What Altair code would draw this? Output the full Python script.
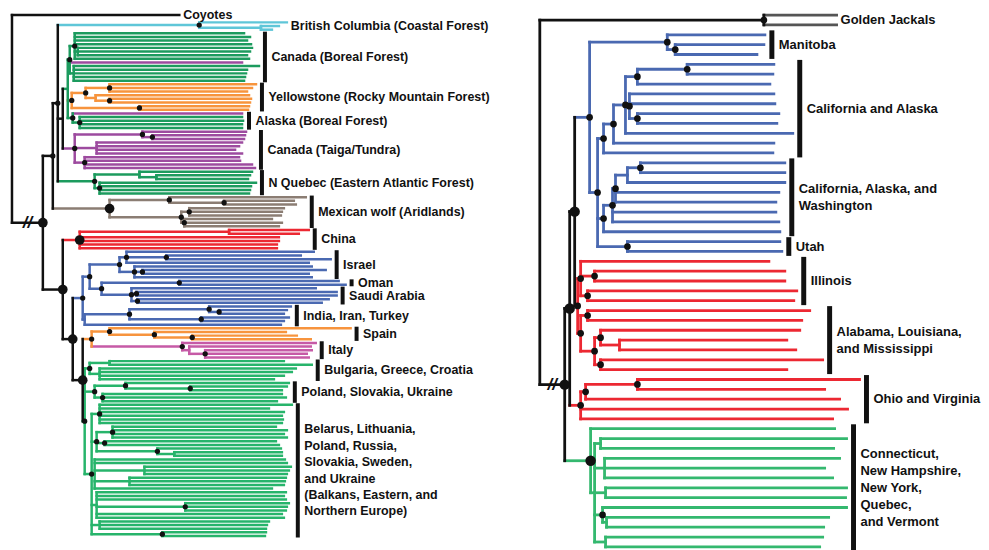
import altair as alt
import pandas as pd

# ---------------- colours ----------------
BLACK = "#111111"
LBLUE = "#5fc6d8"
NAGREEN = "#1c9b5e"
ORANGE = "#f7943d"
PURPLE = "#9d4b9f"
PINK = "#c65aa6"
BROWN = "#8b7d73"
RED = "#ec2832"
BLUE = "#4a69b1"
EUGREEN = "#27b46b"
RGREEN = "#34b86f"
GRAY = "#555555"

# node = (depth, children, support_dot[, colour]); leaf = tip depth or [tip depth, colour]
# ---------------- left tree ----------------
COYOTES = (12, [180], 0)
BC = (200, [288, (262, [280, 273], 0)], 1, LBLUE)
CB = (70, [(75, [245, 251, 248, 252, (78, [253, 251, 248], 0), 250], 1), [243, PURPLE],
           (74, [260, 248, 247, 246, 245], 0)], 1, NAGREEN)
YS = (72, [(86, [(110, [257, 253, 248], 1), (96, [250, (110, [252, 251], 1)], 0)], 1),
           (140, [250, 249], 1)], 1, ORANGE)
AK = (73, [[243, PURPLE], (80, [243, 244, 243, 243], 1)], 1, NAGREEN)
TT = (75, [(143, [247, (153, [246, 245], 1)], 1), (97, [243, 240, 236, 243], 0),
           (85, [240, 241, 253, 256], 1)], 1, PURPLE)
NQ = (95, [(140, [253, (157, [251, 249], 0)], 0), (100, [257, 252, 251, 250], 1)], 1, NAGREEN)
MEX = (110, [(170, [307, (225, [295, 297], 1)], 1),
             (182, [(190, [285, 283, 282], 1), (185, [273, 283, 280], 1)], 1)], 2, BROWN)
CHINA = (80, [(230, [310, 300], 0), 280, 280, 278, 278], 2, RED)
ISRAEL = (120, [(127, [315, (167, [302, 332], 1), 310], 1), (135, [313, (143, [327, 310], 1), 313], 1)], 1)
OMAN = (180, [340, 347], 1)
SAUDI = (132, [317, (137, [338, 338], 1), (138, [330, 323], 1)], 1)
INDIA = (85, [(130, [(210, [292, (220, [288, 285], 1)], 1), (202, [290, 285], 1)], 1), 282], 0)
ASIA = (83, [(90, [ISRAEL, (102, [OMAN, SAUDI], 1)], 1), INDIA], 1, BLUE)
SPAIN = (110, [352, (155, [287, (193, [298, 312], 1)], 1)], 1)
ITALY = (183, [317, (190, [312, (206, [313, 308, 310], 1)], 0)], 1, PINK)
SPIT = (92, [SPAIN, ITALY], 1, ORANGE)
BULG = (90, [(110, [285, 313], 0), (100, [297, 293, 285, 275], 0)], 1)
POL = (95, [(126, [290, (191, [288, 283], 1)], 1), (103, [283, 287, 278], 1)], 1)
BEL = (92, [(100, [293, 270, 285, 283, 284, 283], 1),
            (97, [(113, [277, 288, 285, 288], 1), (105, [277, 280], 1), (158, [282, (175, [283, 283], 0)], 1)], 1),
            (95, [286, 288, (145, [292, 290, 288], 0), (130, [287, 286, 285], 0), 273], 0),
            (97, [287, 285, 287, (186, [290, 288, 287], 1), 283, 285], 0),
            (100, [270, 268, 267], 0),
            (163, [267, 266], 1)], 1)
EUROPE = (85, [BULG, POL, BEL], 1, EUGREEN)
NAW = (58, [BC, (63, [(68, [CB, YS, AK], 0, NAGREEN), TT], 0), NQ], 1)
NA = (53, [NAW, MEX], 1)
OW2 = (83, [SPIT, EUROPE], 2)
OW1 = (73, [ASIA, OW2], 2)
OW = (63, [CHINA, OW1], 2)
INGROUP_L = (43, [NA, OW], 2)
ROOT_L = (12, [COYOTES, None, INGROUP_L], 0)

LABELS_L = [
    ("Coyotes", COYOTES, False),
    ("British Columbia (Coastal Forest)", BC, False),
    ("Canada (Boreal Forest)", CB, True),
    ("Yellowstone (Rocky Mountain Forest)", YS, True),
    ("Alaska (Boreal Forest)", AK, True),
    ("Canada (Taiga/Tundra)", TT, True),
    ("N Quebec (Eastern Atlantic Forest)", NQ, True),
    ("Mexican wolf (Aridlands)", MEX, True),
    ("China", CHINA, True),
    ("Israel", ISRAEL, True),
    ("Oman", OMAN, True),
    ("Saudi Arabia", SAUDI, True),
    ("India, Iran, Turkey", INDIA, True),
    ("Spain", SPAIN, True),
    ("Italy", ITALY, True),
    ("Bulgaria, Greece, Croatia", BULG, True),
    ("Poland, Slovakia, Ukraine", POL, True),
    ("Belarus, Lithuania,\nPoland, Russia,\nSlovakia, Sweden,\nand Ukraine\n(Balkans, Eastern, and\nNorthern Europe)", BEL, True),
]

# ---------------- right tree ----------------
GJ = (767, [[840, GRAY], [840, GRAY]], 1)
MANITOBA = (670, [768, (678, [767, 760], 1)], 1)
CAAK = (606, [(616, [(628, [(640, [(690, [777, 776], 1), 773], 1),
                            (632, [777, 778, (640, [782, 780], 1)], 1), 796], 1), 777], 1), 776], 1)
CAAKWA = (606, [(615, [(618, [(630, [(643, [788, 788], 1), 788], 0), 782, 779], 1), 779, 782], 1), 783], 1)
UTAH = (630, [783, 785], 1)
NABLUE = (592, [MANITOBA, (600, [CAAK, CAAKWA, UTAH], 1)], 1, BLUE)
ILLINOIS = (583, [772, (597, [788, 788], 1), (590, [800, 797], 1)], 1, RED)
ALABAMA = (583, [(590, [813, 805], 1), (597, [(603, [803, (622, [790, 799], 0)], 1),
                                            (603, [826, 790], 1)], 1)], 1, RED)
OHIO = (583, [(588, [(640, [863, 828], 1), 843], 1), 851, 836], 1, RED)
NEAST = (593, [838, (597, [(603, [850, 837], 0), (607, [843, 828, 836], 0), (608, [850, 849], 0),
                           (605, [850, (609, [832, 827], 0)], 1), (608, [826, 823], 0)], 0)], 2, RGREEN)
MIDWEST = (580, [ILLINOIS, ALABAMA], 1, RED)
WEST_MID = (577, [NABLUE, MIDWEST], 2)
NONNE = (572, [WEST_MID, OHIO], 2)
INGROUP_R = (567, [NONNE, NEAST], 2)
ROOT_R = (542, [GJ, INGROUP_R], 0)

LABELS_R = [
    ("Golden Jackals", GJ, False),
    ("Manitoba", MANITOBA, True),
    ("California and Alaska", CAAK, True),
    ("California, Alaska, and\nWashington", CAAKWA, True),
    ("Utah", UTAH, True),
    ("Illinois", ILLINOIS, True),
    ("Alabama, Louisiana,\nand Mississippi", ALABAMA, True),
    ("Ohio and Virginia", OHIO, True),
    ("Connecticut,\nNew Hampshire,\nNew York,\nQuebec,\nand Vermont", NEAST, True),
]


def layout(tree):
    segs, dots, spans = [], [], {}
    counter = [0]

    def walk(node, px, col):
        if node is None:
            counter[0] += 1
            return None
        if not isinstance(node, tuple):
            tip, c = (node[0], node[1]) if isinstance(node, list) else (node, None)
            y = counter[0]
            counter[0] += 1
            segs.append(dict(x=px, x2=tip, y=y, y2=y, color=c or col))
            return (y, y, y, tip)
        x, kids, dot = node[:3]
        c = node[3] if len(node) > 3 else col
        res = [r for r in (walk(k, x, c) for k in kids) if r is not None]
        ys = [r[0] for r in res]
        lo = min(r[1] for r in res)
        hi = max(r[2] for r in res)
        mt = max(r[3] for r in res)
        y = (ys[0] + ys[-1]) / 2
        if ys[0] != ys[-1]:
            segs.append(dict(x=x, x2=x, y=ys[0], y2=ys[-1], color=c))
        if px is not None and px != x:
            segs.append(dict(x=px, x2=x, y=y, y2=y, color=c))
        if dot:
            dots.append(dict(x=x, y=y, d=dot))
        spans[id(node)] = (lo, hi, y, mt, x)
        return (y, lo, hi, mt)

    walk(tree, None, BLACK)
    return segs, dots, spans, counter[0]


def panel(tree, ingroup, labels, x0, width, yrange, fs, lh, lw, bw, gap, toff, dsz):
    segs, dots, spans, n = layout(tree)
    xs = alt.Scale(domain=[x0, x0 + width], range=[0, width])
    ysc = alt.Scale(domain=[0, n - 1], range=yrange)
    ppi = (yrange[1] - yrange[0]) / (n - 1)   # pixels per leaf slot
    X = alt.X("x:Q", scale=xs, axis=None)
    Y = alt.Y("y:Q", scale=ysc, axis=None)

    bars, texts = [], []
    for text, node, has_bar in labels:
        lo, hi, ymid, mt, nx = spans[id(node)]
        nlines = text.count("\n") + 1
        yc = (lo + hi) / 2 - (nlines - 1) * lh / 2 / ppi
        if has_bar:
            bx = mt + gap
            bars.append(dict(x=bx, y=lo - 0.45, y2=hi + 0.45))
            texts.append(dict(x=bx + toff, y=yc, text=text))
        else:
            texts.append(dict(x=mt + 4, y=yc, text=text))

    rlo, rhi, ry, rmt, rx = spans[id(tree)]
    ilo, ihi, iy, imt, ix = spans[id(ingroup)]
    brk = pd.DataFrame([dict(x=(rx + ix) / 2, y=iy, text="//")])

    dd = pd.DataFrame(dots)
    dd["s"] = dd["d"].map(dsz)

    rules = alt.Chart(pd.DataFrame(segs)).mark_rule(strokeWidth=lw, strokeCap="square").encode(
        x=X, x2="x2:Q", y=Y, y2="y2:Q", color=alt.Color("color:N", scale=None))
    barl = alt.Chart(pd.DataFrame(bars)).mark_rule(strokeWidth=bw, color=BLACK).encode(
        x=X, y=Y, y2="y2:Q")
    pts = alt.Chart(dd).mark_point(filled=True, color=BLACK, opacity=1, shape="circle").encode(
        x=X, y=Y, size=alt.Size("s:Q", scale=None))
    txt = alt.Chart(pd.DataFrame(texts)).mark_text(
        align="left", baseline="middle", font="Liberation Sans", fontWeight="bold",
        fontSize=fs, lineBreak="\n", lineHeight=lh, color=BLACK).encode(x=X, y=Y, text="text:N")
    brkt = alt.Chart(brk).mark_text(
        align="center", baseline="middle", font="Liberation Sans", fontWeight="bold",
        fontStyle="italic", fontSize=17, color=BLACK).encode(x=X, y=Y, text="text:N")
    return alt.layer(rules, barl, pts, txt, brkt).properties(width=width, height=540)


left = panel(ROOT_L, INGROUP_L, LABELS_L, 8, 530, [4, 527], 12.5, 16.5, 2.5, 4, 6, 6.5,
             {1: 28, 2: 95})
right = panel(ROOT_R, INGROUP_R, LABELS_R, 538, 443, [4, 538], 13, 17, 2.8, 5, 7, 7,
              {1: 45, 2: 110})

chart = alt.hconcat(left, right, spacing=0).properties(padding=0).configure_view(stroke=None)
chart.save("out.html", embed_options={"renderer": "svg", "actions": False})
